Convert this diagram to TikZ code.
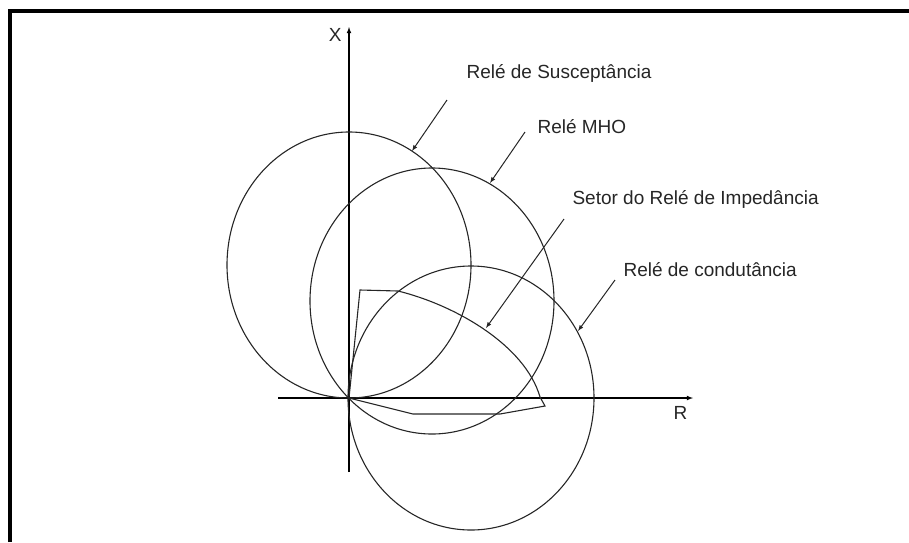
\documentclass[tikz,border=0pt]{standalone}
\usepackage{fontspec}
\setmainfont{Liberation Sans}
\usetikzlibrary{positioning}

\begin{document}
\begin{tikzpicture}[>=latex,x=1pt,y=-1pt,line width=1.1pt,
    curve/.style={draw=black!85},
    leader/.style={draw=black!85,->,line width=1pt},
    lbl/.style={anchor=west,inner sep=0pt,text=black!85,font=\fontsize{19}{21}\selectfont}]
        \useasboundingbox (0,0) rectangle (909,542);
        % moldura
        \draw[line width=3.5pt] (10,542) -- (10,11) -- (909,11);
        % eixos
        \coordinate (o) at (349,398);
        \coordinate (xend) at (693,398);
        \coordinate (yend) at (349,27);
        \draw[->] (278,398) -- (xend);
        \draw[->] (349,472) -- (yend);
        \node[lbl,anchor=east] (xlbl) at (342,35) {X};
        \node[lbl] (rlbl) at (673,413) {R};
        % caracteristicas
        \draw[curve] (349,265) ellipse [x radius=122,y radius=133];
        \draw[curve] (432,301) ellipse [x radius=122,y radius=133];
        \draw[curve] (471,398) ellipse [x radius=123,y radius=132];
        \draw[curve] (o) -- (360,290) -- (398,291)
            .. controls (455,305) and (525,345) .. (540,397)
            -- (545,406) -- (500,414) -- (413,414) -- cycle;
        % rotulos
        \node[lbl] (susc) at (466,73) {Relé de Susceptância};
        \node[lbl] (mho) at (537,127) {Relé MHO};
        \node[lbl] (imped) at (572,199) {Setor do Relé de Impedância};
        \node[lbl] (cond) at (623,270) {Relé de condutância};
        \coordinate (suscA) at (447,100);
        \coordinate (suscB) at (412,151);
        \coordinate (mhoA) at (525,132);
        \coordinate (mhoB) at (490,183);
        \coordinate (impA) at (564,219);
        \coordinate (impB) at (486,328);
        \coordinate (condA) at (615,280);
        \coordinate (condB) at (578,331);
        \draw[leader] (suscA) -- (suscB);
        \draw[leader] (mhoA) -- (mhoB);
        \draw[leader] (impA) -- (impB);
        \draw[leader] (condA) -- (condB);
    \end{tikzpicture}
\end{document}
